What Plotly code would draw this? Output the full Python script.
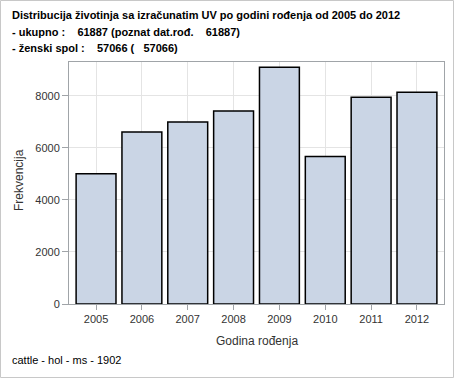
import plotly.graph_objects as go

years = ["2005", "2006", "2007", "2008", "2009", "2010", "2011", "2012"]
freq = [5003, 6611, 6993, 7414, 9098, 5665, 7950, 8142]

title_lines = [
    "Distribucija životinja sa izračunatim UV po godini rođenja od 2005 do 2012",
    "- ukupno :\u00a0\u00a0\u00a0\u00a061887 (poznat dat.rođ.\u00a0\u00a0\u00a0\u00a061887)",
    "- ženski spol :\u00a0\u00a0\u00a0\u00a057066 (\u00a0\u00a0\u00a057066)",
]
footer = "cattle - hol - ms - 1902"
x_title = "Godina rođenja"
y_title = "Frekvencija"

W, H = 454, 378
L, R, T, B = 69, 10, 62, 74
pw, ph = W - L - R, H - T - B

def px(x):
    return (x - L) / pw

def py(y):
    return (H - B - y) / ph

FONT = "Liberation Sans, Arial, sans-serif"

fig = go.Figure(go.Bar(
    x=list(range(len(years))), y=freq,
    marker=dict(color="#CAD5E5", line=dict(color="black", width=1.5)),
    width=0.87,
))

annotations = []
for i, t in enumerate(title_lines):
    annotations.append(dict(
        text="<b>" + t + "</b>", x=px(10), y=py(15 + 16.5 * i), xref="paper", yref="paper",
        xanchor="left", yanchor="middle", showarrow=False,
        font=dict(family=FONT, size=11, color="black")))
annotations.append(dict(
    text=footer, x=px(10), y=py(360), xref="paper", yref="paper",
    xanchor="left", yanchor="middle", showarrow=False,
    font=dict(family=FONT, size=11, color="black")))
annotations.append(dict(
    text=x_title, x=0.5, y=py(341), xref="paper", yref="paper",
    xanchor="center", yanchor="middle", showarrow=False,
    font=dict(family=FONT, size=12, color="#333333")))
annotations.append(dict(
    text=y_title, x=px(19), y=py(180), xref="paper", yref="paper", textangle=-90,
    xanchor="center", yanchor="middle", showarrow=False,
    font=dict(family=FONT, size=12, color="#333333")))

fig.update_layout(
    width=W, height=H,
    margin=dict(l=L, r=R, t=T, b=B, autoexpand=False),
    paper_bgcolor="white", plot_bgcolor="white",
    showlegend=False,
    font=dict(family=FONT, size=11, color="#333333"),
    annotations=annotations,
    shapes=[dict(type="rect", xref="paper", yref="paper",
                 x0=px(0.5), x1=px(453.5), y0=py(377.5), y1=py(0.5),
                 line=dict(color="#c8c8c8", width=1), layer="below")],
    xaxis=dict(
        range=[-0.59, 7.59], tickmode="array", tickvals=list(range(len(years))), ticktext=years,
        showgrid=True, gridcolor="#e4e4e4", gridwidth=1,
        showline=True, linecolor="#a0a4a8", linewidth=1, mirror=True,
        ticks="outside", ticklen=5, tickcolor="#a0a4a8",
        tickfont=dict(family=FONT, size=11, color="#333333"),
        automargin=False, zeroline=False,
    ),
    yaxis=dict(
        range=[0, 9300], tickvals=[0, 2000, 4000, 6000, 8000],
        showgrid=True, gridcolor="#e4e4e4", gridwidth=1,
        showline=True, linecolor="#a0a4a8", linewidth=1, mirror=True,
        ticks="outside", ticklen=6, tickcolor="#a0a4a8",
        tickfont=dict(family=FONT, size=11, color="#333333"),
        automargin=False, zeroline=False,
    ),
)

fig.write_html("out.html", config={"displayModeBar": False},
               post_script="document.body.style.margin='0';")
